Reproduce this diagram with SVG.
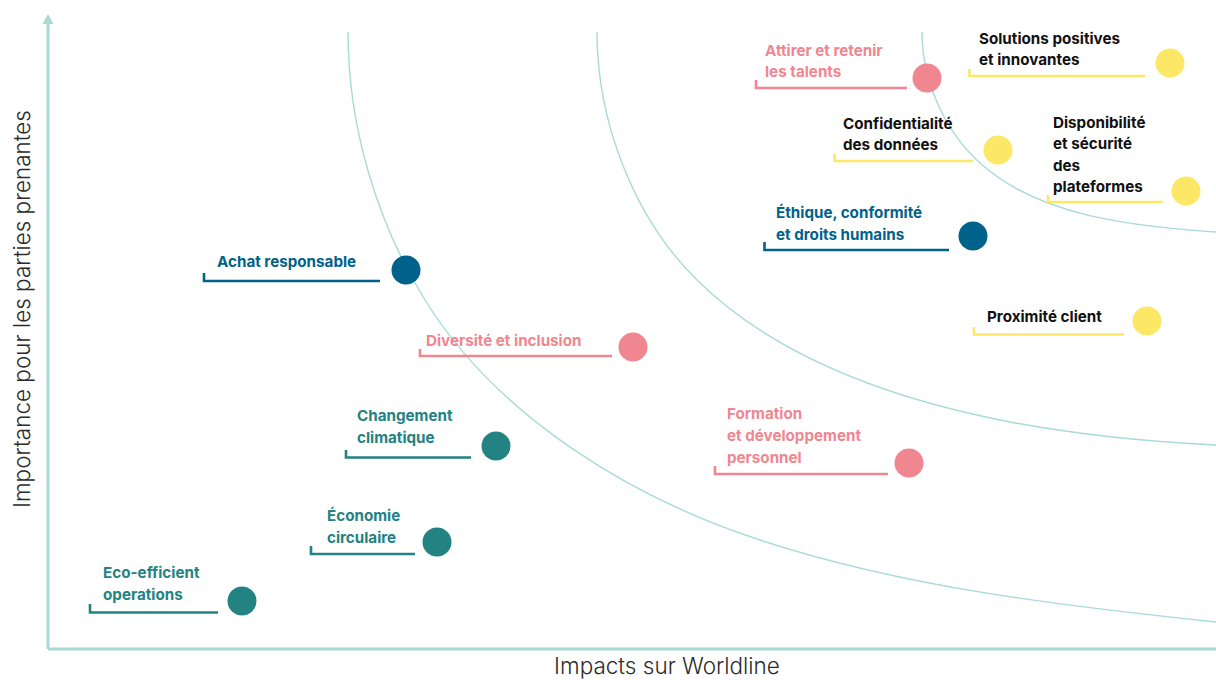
<svg xmlns="http://www.w3.org/2000/svg" width="1216" height="680" viewBox="0 0 1216 680">
<style>
  .lbl{font-family:Inter,"Liberation Sans",sans-serif;font-weight:700;font-size:15.2px}
  .ax{font-family:Inter,"Liberation Sans",sans-serif;font-weight:300;font-size:22.5px;fill:#2b2b2b}
  .curve{fill:none;stroke:#a8dad8;stroke-width:1.4}
  .br{fill:none;stroke-width:2.6}
  .blue{fill:#00628a}.blueS{stroke:#00628a}
  .teal{fill:#238282}.tealS{stroke:#238282}
  .pink{fill:#f0868f}.pinkS{stroke:#f0868f}
  .yel{fill:#fde766}.yelS{stroke:#fde766}
  .blk{fill:#111111}
</style>
<rect width="1216" height="680" fill="#ffffff"/>
<g id="axes">
  <path d="M48,649 V22" fill="none" stroke="#a8dad8" stroke-width="3"/>
  <path d="M48,649 H1216" fill="none" stroke="#a8dad8" stroke-width="3"/>
  <polygon points="48,14 53.5,24 42.5,24" fill="#a8dad8"/>
  <text class="ax" x="667" y="674" text-anchor="middle">Impacts sur Worldline</text>
  <text class="ax" transform="translate(30,309) rotate(-90)" text-anchor="middle">Importance pour les parties prenantes</text>
</g>
<g id="connectors">
  <path class="curve" d="M348,32 C348,125 376,221 425,300 C497,416 630,497.5 760,540 C905,587.5 1060,605.6 1216,622"/>
  <path class="curve" d="M597,32 C597,121 633.5,217.7 697,280 C776,358 891,398 1000,420 C1070,434 1141,441.5 1216,445"/>
  <path class="curve" d="M922,32 C922,80 944.3,131 980,163 C1040,217 1131,225.5 1216,232"/>
</g>
<g id="achat">
  <text class="lbl blue" x="217" y="267">Achat responsable</text>
  <path class="br blueS" d="M204,273 V281 H380"/>
  <circle class="blue" cx="406" cy="270" r="14.5"/>
</g>
<g id="diversite">
  <text class="lbl pink" x="426" y="346">Diversité et inclusion</text>
  <path class="br pinkS" d="M420,349 V356 H612"/>
  <circle class="pink" cx="633" cy="347" r="14.5"/>
</g>
<g id="changement">
  <text class="lbl teal" x="357" y="421">Changement</text>
  <text class="lbl teal" x="357" y="443">climatique</text>
  <path class="br tealS" d="M346,450 V457.5 H471"/>
  <circle class="teal" cx="496" cy="446" r="14.5"/>
</g>
<g id="economie">
  <text class="lbl teal" x="327" y="521">Économie</text>
  <text class="lbl teal" x="327" y="543">circulaire</text>
  <path class="br tealS" d="M311,546 V554 H415"/>
  <circle class="teal" cx="437" cy="542" r="14.5"/>
</g>
<g id="ecoefficient">
  <text class="lbl teal" x="103" y="578">Eco-efficient</text>
  <text class="lbl teal" x="103" y="600">operations</text>
  <path class="br tealS" d="M90,604 V612.5 H218"/>
  <circle class="teal" cx="242" cy="601" r="14.5"/>
</g>
<g id="formation">
  <text class="lbl pink" x="727" y="419">Formation</text>
  <text class="lbl pink" x="727" y="441">et développement</text>
  <text class="lbl pink" x="727" y="463">personnel</text>
  <path class="br pinkS" d="M715,466 V474 H888"/>
  <circle class="pink" cx="909" cy="463" r="14.5"/>
</g>
<g id="proximite">
  <text class="lbl blk" x="987" y="322">Proximité client</text>
  <path class="br yelS" d="M974,327 V334.5 H1124"/>
  <circle class="yel" cx="1147" cy="321" r="14.5"/>
</g>
<g id="ethique">
  <text class="lbl blue" x="776" y="218">Éthique, conformité</text>
  <text class="lbl blue" x="776" y="240">et droits humains</text>
  <path class="br blueS" d="M764.5,242 V250 H949"/>
  <circle class="blue" cx="973" cy="236" r="14.5"/>
</g>
<g id="attirer">
  <text class="lbl pink" x="765" y="56">Attirer et retenir</text>
  <text class="lbl pink" x="765" y="77">les talents</text>
  <path class="br pinkS" d="M756,80 V88 H907"/>
  <circle class="pink" cx="927" cy="78" r="14.5"/>
</g>
<g id="solutions">
  <text class="lbl blk" x="979" y="44">Solutions positives</text>
  <text class="lbl blk" x="979" y="65">et innovantes</text>
  <path class="br yelS" d="M969.5,69 V76 H1145"/>
  <circle class="yel" cx="1170" cy="63" r="14.5"/>
</g>
<g id="confidentialite">
  <text class="lbl blk" x="843" y="129">Confidentialité</text>
  <text class="lbl blk" x="843" y="150">des données</text>
  <path class="br yelS" d="M834.5,154 V161 H973"/>
  <circle class="yel" cx="998" cy="150" r="14.5"/>
</g>
<g id="disponibilite">
  <text class="lbl blk" x="1053" y="128">Disponibilité</text>
  <text class="lbl blk" x="1053" y="149">et sécurité</text>
  <text class="lbl blk" x="1053" y="171">des</text>
  <text class="lbl blk" x="1053" y="192">plateformes</text>
  <path class="br yelS" d="M1048,195 V202 H1163"/>
  <circle class="yel" cx="1186" cy="191" r="14.5"/>
</g>
</svg>
